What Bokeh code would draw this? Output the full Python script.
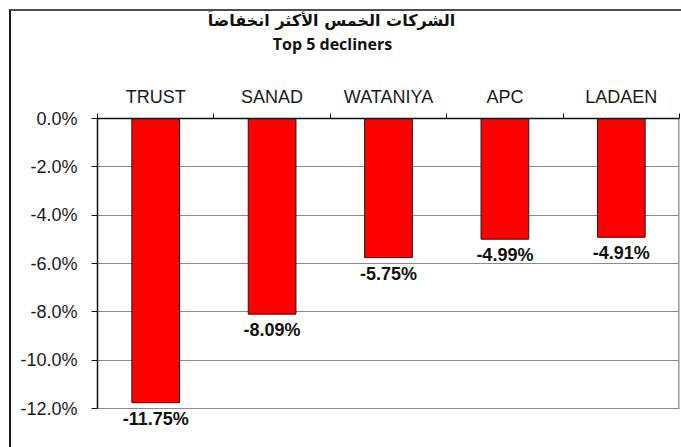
from bokeh.plotting import figure
from bokeh.layouts import column
from bokeh.models import (Range1d, FixedTicker, PrintfTickFormatter, ColumnDataSource,
                          LabelSet, Label)
from bokeh.core.properties import value
from bokeh.embed import file_html
from bokeh.resources import INLINE

# ---- data ----
companies = ["TRUST", "SANAD", "WATANIYA", "APC", "LADAEN"]
changes = [-11.75, -8.09, -5.75, -4.99, -4.91]
change_labels = ["-11.75%", "-8.09%", "-5.75%", "-4.99%", "-4.91%"]
y_ticks = [0, -2, -4, -6, -8, -10, -12]
title_ar = "الشركات الخمس الأكثر انخفاضاً"
title_en = "Top 5 decliners"

n = len(companies)
centers = [i + 0.5 for i in range(n)]
boundaries = list(range(n + 1))
y_lo, y_hi = min(y_ticks), max(y_ticks)

W = 670
TOP_H = 60

# ---- title strip ----
t = figure(width=W, height=TOP_H, output_backend="svg", toolbar_location=None,
           x_axis_type=None, y_axis_type=None, min_border=0,
           x_range=Range1d(0, 1), y_range=Range1d(0, 1))
t.outline_line_color = None
t.background_fill_color = "white"
t.border_fill_color = "white"
t.grid.visible = False
t.add_layout(Label(x=234, y=TOP_H - 9, x_units="screen", y_units="screen", text=title_ar,
                   text_align="center", text_baseline="middle", text_font="DejaVu Sans",
                   text_font_style="bold", text_font_size="16px", text_color="#111111"))
t.add_layout(Label(x=235, y=TOP_H - 32, x_units="screen", y_units="screen", text=title_en,
                   text_align="center", text_baseline="middle", text_font="Open Sans",
                   text_font_style="bold", text_font_size="16px", text_color="#111111"))

# ---- chart ----
p = figure(width=W, height=447 - 11 - TOP_H, output_backend="svg", toolbar_location=None,
           x_range=Range1d(0, n), y_range=Range1d(y_lo - 0.9, y_hi),
           x_axis_location="above",
           min_border_left=86, min_border_right=2, min_border_top=118 - 11 - TOP_H,
           min_border_bottom=17)

p.background_fill_color = "white"
p.border_fill_color = "white"
p.outline_line_color = None

# right edge of the plot area
p.segment(x0=[n], x1=[n], y0=[y_hi], y1=[y_lo], line_color="#9a9a9a", line_width=3)

src = ColumnDataSource(dict(x=centers, top=[0] * n, bottom=changes, lab=change_labels))
p.vbar(x="x", top="top", bottom="bottom", width=0.41, source=src,
       fill_color="#ff0000", line_color="#1a1a1a", line_width=1)

labels = LabelSet(x="x", y="bottom", text="lab", source=src, text_align="center",
                  text_baseline="top", y_offset=-6, text_font=value("Liberation Sans"),
                  text_font_style="bold", text_font_size="18px", text_color="#111111")
p.add_layout(labels)

# x axis (top)
xa = p.xaxis[0]
xa.ticker = FixedTicker(ticks=centers, minor_ticks=boundaries)
xa.major_label_overrides = {c: name for c, name in zip(centers, companies)}
xa.major_tick_out = 0
xa.major_tick_in = 0
xa.minor_tick_out = 5
xa.minor_tick_in = 0
xa.minor_tick_line_color = "#111111"
xa.axis_line_color = "#111111"
xa.axis_line_width = 1.5
xa.major_label_standoff = 7
xa.major_label_text_font = "Liberation Sans"
xa.major_label_text_font_size = "18px"
xa.major_label_text_color = "#1a1a1a"

ya = p.yaxis[0]
ya.ticker = FixedTicker(ticks=y_ticks)
ya.bounds = (y_lo, y_hi)
ya.formatter = PrintfTickFormatter(format="%.1f%%")
ya.major_tick_out = 6
ya.major_tick_in = 0
ya.minor_tick_out = 0
ya.minor_tick_in = 0
ya.axis_line_color = "#111111"
ya.axis_line_width = 1.5
ya.major_tick_line_color = "#111111"
ya.major_label_standoff = 14
ya.major_label_text_font = "Liberation Sans"
ya.major_label_text_font_size = "18px"
ya.major_label_text_color = "#1a1a1a"

p.xgrid.visible = False
p.ygrid.ticker = FixedTicker(ticks=y_ticks)
p.ygrid.grid_line_color = "#8c8c8c"
p.ygrid.grid_line_width = 1

layout = column(t, p, spacing=0,
                styles={"margin-left": "9px", "margin-top": "9px",
                        "border-top": "2px solid #4d4d4d", "border-left": "2px solid #1a1a1a"})

open("out.html", "w").write(file_html(layout, INLINE))
